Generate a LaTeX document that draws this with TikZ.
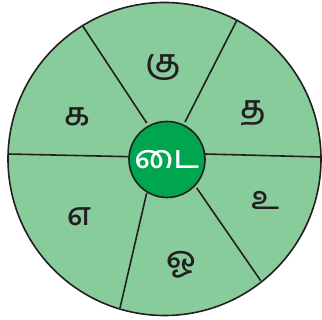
\documentclass[tikz,border=0pt]{standalone}
\usepackage{fontspec}
\newfontfamily\tamil[Script=Tamil]{Hind Madurai Medium}
\definecolor{lightg}{HTML}{88CC9C}
\definecolor{darkg}{HTML}{00A54F}
\definecolor{ink}{HTML}{231F20}
\tikzset{
  spoke/.style={draw=ink,line width=1.6pt},
  letter/.style={font=\tamil\fontsize{32}{32}\selectfont,text=ink,inner sep=0pt},
}
\begin{document}
\begin{tikzpicture}[x=1pt,y=-1pt]
\useasboundingbox (0,0) rectangle (322,320);
\node[circle,draw=ink,line width=1.6pt,fill=lightg,minimum size=313pt,inner sep=0pt] (outer) at (164.5,159) {};
\coordinate (o1) at (82.7,26);
\coordinate (o2) at (237,20);
\coordinate (o3) at (321,157);
\coordinate (o4) at (260.7,280.7);
\coordinate (o5) at (120,308);
\coordinate (o6) at (8,154);
\coordinate (i1) at (146.7,123);
\coordinate (i2) at (185,122);
\coordinate (i3) at (205,154);
\coordinate (i4) at (196.7,188);
\coordinate (i5) at (146.7,193);
\coordinate (i6) at (130,156.7);
\foreach \k in {1,...,6} \draw[spoke] (o\k) -- (i\k);
\node[circle,draw=ink,line width=1.6pt,fill=darkg,minimum size=76pt,inner sep=0pt] (hub) at (167,159.5) {};
\node[letter,text=white] (c) at (167,160) {டை};
\node[letter] (l1) at (163,68) {கு};
\node[letter] (l2) at (253,113) {த};
\node[letter] (l3) at (265,200) {உ};
\node[letter] (l4) at (181,265) {ஓ};
\node[letter] (l5) at (79,217) {எ};
\node[letter] (l6) at (77,117) {க};
\end{tikzpicture}
\end{document}
